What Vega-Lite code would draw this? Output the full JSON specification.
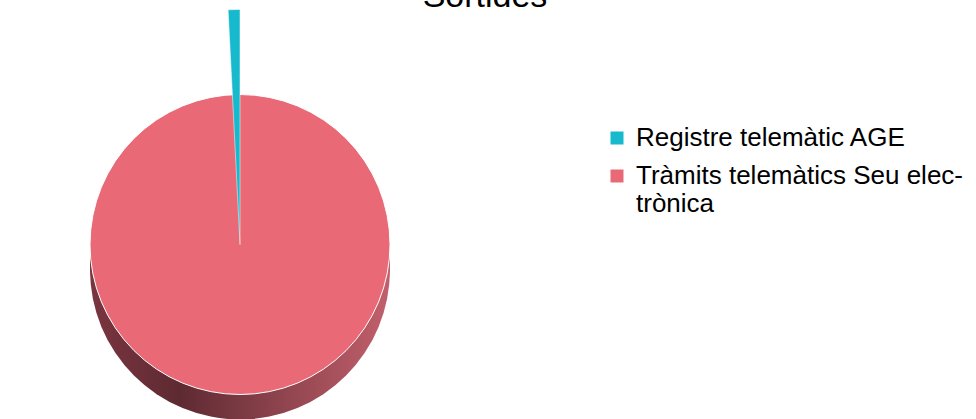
{
  "$schema": "https://vega.github.io/schema/vega-lite/v6.json",
  "width": 480,
  "height": 419,
  "autosize": {"type": "none"},
  "padding": {"left": 0, "top": 0, "bottom": 0, "right": 496},
  "background": "white",
  "view": {"stroke": null},
  "title": {"text": "Sortides", "font": "Liberation Sans", "fontSize": 34, "fontWeight": "normal", "color": "#000000", "anchor": "middle", "dx": 245, "offset": -41, "baseline": "alphabetic"},
  "data": {"values": [
    {"categoria": "Tràmits telemàtics Seu electrònica", "valor": 248, "ordre": 1},
    {"categoria": "Registre telemàtic AGE", "valor": 2, "ordre": 2}
  ]},
  "transform": [{"stack": "valor", "groupby": [], "sort": [{"field": "ordre"}], "as": ["v0", "v1"]}],
  "layer": [
    {"transform": [{"filter": "datum.ordre == 1"}],
     "mark": {"type": "arc", "radius": 150, "yOffset": 60, "fill": {"gradient": "linear", "x1": 0, "x2": 1, "y1": 0, "y2": 0, "stops": [{"offset": 0, "color": "#7a3540"}, {"offset": 0.3, "color": "#5e2a32"}, {"offset": 1, "color": "#c2606c"}]}},
     "encoding": {"theta": {"field": "v0", "type": "quantitative", "scale": {"range": [6.283185307179586, 0]}}, "theta2": {"field": "v1"}}},
    {"transform": [{"filter": "datum.ordre == 1"}],
     "mark": {"type": "arc", "radius": 150, "yOffset": 52, "fill": {"gradient": "linear", "x1": 0, "x2": 1, "y1": 0, "y2": 0, "stops": [{"offset": 0, "color": "#7a3540"}, {"offset": 0.3, "color": "#5e2a32"}, {"offset": 1, "color": "#c2606c"}]}},
     "encoding": {"theta": {"field": "v0", "type": "quantitative"}, "theta2": {"field": "v1"}}},
    {"transform": [{"filter": "datum.ordre == 1"}],
     "mark": {"type": "arc", "radius": 150, "yOffset": 44, "fill": {"gradient": "linear", "x1": 0, "x2": 1, "y1": 0, "y2": 0, "stops": [{"offset": 0, "color": "#7a3540"}, {"offset": 0.3, "color": "#5e2a32"}, {"offset": 1, "color": "#c2606c"}]}},
     "encoding": {"theta": {"field": "v0", "type": "quantitative"}, "theta2": {"field": "v1"}}},
    {"transform": [{"filter": "datum.ordre == 1"}],
     "mark": {"type": "arc", "radius": 150, "yOffset": 35, "stroke": "white", "strokeWidth": 1},
     "encoding": {"theta": {"field": "v0", "type": "quantitative"}, "theta2": {"field": "v1"},
       "color": {"field": "categoria", "type": "nominal",
         "scale": {"domain": ["Registre telemàtic AGE", "Tràmits telemàtics Seu electrònica"], "range": ["#17b9cc", "#e96a76"]},
         "legend": {"orient": "none", "legendX": 604, "legendY": 125, "padding": 0, "title": null, "symbolType": "square", "symbolSize": 169, "symbolStrokeWidth": 0, "labelFont": "Liberation Sans", "labelFontSize": 26, "labelColor": "#000000", "labelLimit": 500, "rowPadding": 12, "labelOffset": 6, "labelLineHeight": 32,
           "labelExpr": "datum.label == 'Tràmits telemàtics Seu electrònica' ? ['Tràmits telemàtics Seu elec-', 'trònica'] : datum.label"}}}},
    {"transform": [{"filter": "datum.ordre == 2"}],
     "mark": {"type": "arc", "radius": 235, "yOffset": 35, "stroke": "white", "strokeWidth": 0.5},
     "encoding": {"theta": {"field": "v0", "type": "quantitative"}, "theta2": {"field": "v1"},
       "color": {"field": "categoria", "type": "nominal"}}}
  ]
}
